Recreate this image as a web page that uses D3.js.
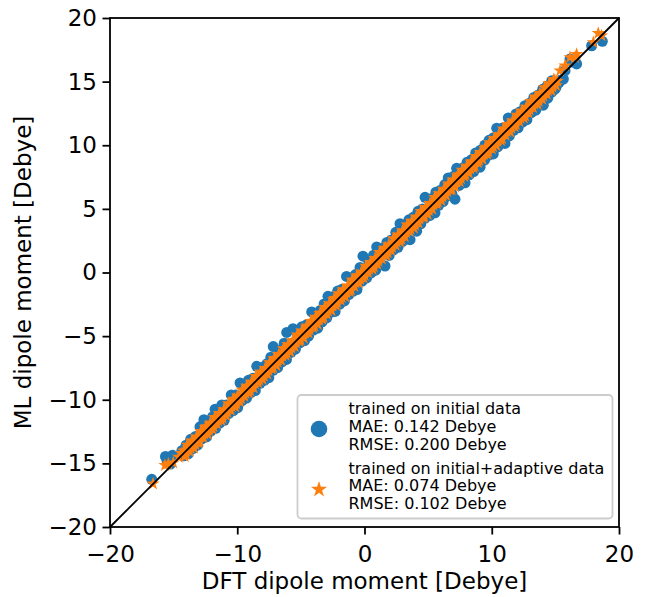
<!DOCTYPE html>
<html>
<head>
<meta charset="utf-8">
<script src="https://cdn.jsdelivr.net/npm/d3@7"></script>
<style>
  body { margin: 0; background: #fff; }
  svg { display: block; }
  text { font-family: "DejaVu Sans", sans-serif; }
</style>
</head>
<body>
<div id="chart"></div>
<script>
var xTicks = [-20, -10, 0, 10, 20];
var yTicks = [-20, -15, -10, -5, 0, 5, 10, 15, 20];
var xLabel = 'DFT dipole moment [Debye]';
var yLabel = 'ML dipole moment [Debye]';

var initialLabel = ['trained on initial data', 'MAE: 0.142 Debye', 'RMSE: 0.200 Debye'];
var adaptiveLabel = ['trained on initial+adaptive data', 'MAE: 0.074 Debye', 'RMSE: 0.102 Debye'];

// [DFT, ML] pairs, model trained on initial data
var initialPoints = [
  [-16.72, -16.25], [-15.64, -14.45], [-15.08, -14.36], [-15.52, -14.78], [-15.25, -15.05],
  [-14.35, -14.0], [-14.2, -14.4],
  [-14.02, -13.57], [-13.66, -13.11], [-13.28, -12.88], [-12.93, -12.13], [-12.62, -11.57],
  [-12.24, -11.74], [-11.93, -11.33], [-11.74, -10.74], [-11.21, -10.41], [-10.86, -10.41],
  [-10.47, -9.62], [-10.12, -9.62], [-9.78, -8.68], [-9.44, -8.89], [-9.12, -8.47],
  [-8.77, -8.32], [-8.47, -7.37], [-8.06, -7.46], [-7.68, -7.18], [-7.36, -6.66],
  [-7.17, -5.82], [-6.66, -6.11], [-6.31, -5.56], [-6.11, -4.71], [-5.62, -4.42],
  [-5.27, -4.77], [-4.91, -4.26], [-4.56, -4.11], [-4.15, -3.1], [-3.86, -3.26],
  [-3.49, -2.99], [-3.17, -2.47], [-2.87, -1.87], [-2.44, -1.89], [-2.11, -1.46],
  [-1.76, -1.31], [-1.41, -0.31], [-1.04, -0.44], [-0.71, -0.16], [-0.35, 0.4],
  [-0.12, 1.28], [0.34, 0.84], [0.71, 1.36], [0.96, 2.01], [1.39, 1.89], [1.76, 2.36],
  [2.11, 2.56], [2.46, 3.16], [2.79, 3.84], [3.16, 3.71], [3.49, 4.14], [3.86, 4.36],
  [4.21, 4.81], [4.55, 5.0], [4.76, 5.91], [5.24, 5.79], [5.61, 6.31], [5.94, 6.44],
  [6.31, 6.91], [6.58, 7.43], [7.01, 7.56], [7.24, 8.19], [7.71, 8.21], [8.06, 8.66],
  [8.41, 8.86], [8.74, 9.39], [9.11, 9.61], [9.46, 10.01], [9.79, 10.39], [10.14, 10.59],
  [10.39, 11.34], [10.86, 11.36], [11.3, 12.15], [11.56, 12.01], [11.91, 12.46],
  [12.24, 12.64], [12.61, 13.11], [12.96, 13.31], [13.31, 13.76], [13.64, 13.94],
  [14.01, 14.41], [14.36, 14.66], [14.72, 15.07],
  [-13.85, -14.25], [-13.48, -13.83], [-13.12, -13.57], [-12.78, -13.08], [-12.41, -12.91],
  [-12.07, -12.47], [-11.69, -12.24], [-11.36, -11.81], [-11.02, -11.62], [-10.68, -11.08],
  [-10.31, -10.86], [-9.97, -10.62], [-9.62, -10.07], [-9.27, -9.87], [-8.93, -9.43],
  [-8.58, -9.28], [-8.21, -8.71], [-7.88, -8.48], [-7.52, -8.27], [-7.19, -7.69],
  [-6.83, -7.48], [-6.48, -7.03], [-6.13, -6.83], [-5.77, -6.27], [-5.43, -6.03],
  [-5.08, -5.53], [-4.71, -5.36], [-4.39, -4.99], [-4.02, -4.52], [-3.68, -4.38],
  [-3.33, -3.88], [-2.97, -3.57], [-2.62, -3.12], [-2.31, -3.06], [-1.94, -2.49],
  [-1.58, -2.23], [-1.23, -1.73], [-0.87, -1.47], [-0.59, -1.34], [-0.18, -0.68],
  [0.17, -0.43], [0.52, -0.03], [0.88, 0.18], [1.23, 0.73], [1.61, 0.51], [1.94, 1.34],
  [2.28, 1.78], [2.63, 1.98], [2.97, 2.42], [3.33, 2.63], [3.58, 2.58], [3.98, 3.43],
  [4.1, 3.25], [4.42, 3.82], [4.77, 4.27], [5.12, 4.47], [5.54, 4.69], [5.83, 5.28],
  [6.18, 5.58], [6.52, 6.02], [6.87, 6.17], [7.11, 5.76], [7.44, 6.84], [7.9, 7.05],
  [8.23, 7.68], [8.58, 7.93], [8.92, 8.42], [9.08, 8.28], [9.43, 8.83], [9.78, 9.23],
  [10.12, 9.32], [10.47, 9.87], [10.81, 10.31], [11.04, 10.14], [11.38, 10.73],
  [11.72, 11.17], [12.07, 11.37], [12.42, 11.82], [12.76, 12.01], [13.11, 12.56],
  [13.46, 12.76], [13.79, 13.19], [14.05, 13.15], [14.4, 13.7], [14.72, 14.17],
  [15.05, 14.55], [15.3, 14.95],
  [14.97, 14.42], [15.4, 15.1], [15.63, 15.2], [15.76, 15.86], [16.15, 16.78],
  [16.3, 16.55], [16.67, 16.39], [17.85, 17.82], [18.69, 18.17]
];

// [DFT, ML] pairs, model trained on initial+adaptive data
var adaptivePoints = [
  [-16.62, -16.6], [-15.68, -15.15], [-15.42, -15.03], [-15.03, -14.95], [-14.6, -14.5],
  [-14.4, -14.2],
  [-14.21, -14.01], [-14.03, -14.28], [-13.84, -13.74], [-13.66, -13.81], [-13.49, -13.24],
  [-13.3, -13.5], [-13.12, -12.97], [-12.95, -13.25], [-12.76, -12.56], [-12.59, -12.69],
  [-12.4, -12.1], [-12.22, -12.42], [-12.05, -11.95], [-11.86, -12.11], [-11.69, -11.49],
  [-11.5, -11.65], [-11.33, -11.08], [-11.14, -11.44], [-10.97, -10.82], [-10.78, -10.98],
  [-10.6, -10.4], [-10.43, -10.53], [-10.24, -9.94], [-10.07, -10.32], [-9.88, -9.78],
  [-9.7, -9.9], [-9.52, -9.27], [-9.35, -9.5], [-9.16, -9.01], [-8.98, -9.28],
  [-8.8, -8.6], [-8.63, -8.73], [-8.44, -8.14], [-8.26, -8.46], [-8.09, -7.99],
  [-7.9, -8.15], [-7.72, -7.52], [-7.55, -7.7], [-7.36, -7.11], [-7.18, -7.48],
  [-7.0, -6.85], [-6.83, -7.03], [-6.64, -6.44], [-6.46, -6.56], [-6.29, -5.99],
  [-6.1, -6.35], [-5.92, -5.82], [-5.74, -5.94], [-5.57, -5.32], [-5.38, -5.53],
  [-5.2, -5.05], [-5.02, -5.32], [-4.85, -4.65], [-4.66, -4.76], [-4.48, -4.18],
  [-4.31, -4.51], [-4.12, -4.02], [-3.94, -4.19], [-3.77, -3.57], [-3.58, -3.73],
  [-3.4, -3.15], [-3.22, -3.52], [-3.05, -2.9], [-2.86, -3.06], [-2.68, -2.48],
  [-2.51, -2.61], [-2.32, -2.02], [-2.14, -2.39], [-1.96, -1.86], [-1.78, -1.98],
  [-1.6, -1.35], [-1.42, -1.57], [-1.24, -1.09], [-1.06, -1.36], [-0.88, -0.68],
  [-0.7, -0.8], [-0.52, -0.22], [-0.34, -0.54], [-0.16, -0.06], [0.02, -0.23],
  [0.2, 0.4], [0.38, 0.23], [0.56, 0.81], [0.74, 0.44], [0.92, 1.07], [1.1, 0.9],
  [1.28, 1.48], [1.46, 1.36], [1.64, 1.94], [1.82, 1.57], [2.0, 2.1], [2.18, 1.98],
  [2.36, 2.61], [2.54, 2.39], [2.72, 2.87], [2.9, 2.6], [3.08, 3.28], [3.26, 3.16],
  [3.44, 3.74], [3.62, 3.42], [3.8, 3.9], [3.98, 3.73], [4.16, 4.36], [4.34, 4.19],
  [4.52, 4.77], [4.7, 4.4], [4.88, 5.03], [5.06, 4.86], [5.24, 5.44], [5.42, 5.32],
  [5.6, 5.9], [5.78, 5.53], [5.96, 6.06], [6.14, 5.94], [6.32, 6.57], [6.5, 6.35],
  [6.68, 6.83], [6.86, 6.56], [7.04, 7.24], [7.22, 7.12], [7.4, 7.7], [7.58, 7.38],
  [7.76, 7.86], [7.94, 7.69], [8.12, 8.32], [8.3, 8.15], [8.48, 8.73], [8.66, 8.36],
  [8.84, 8.99], [9.02, 8.82], [9.2, 9.4], [9.38, 9.28], [9.56, 9.86], [9.74, 9.49],
  [9.92, 10.02], [10.1, 9.9], [10.28, 10.53], [10.46, 10.31], [10.64, 10.79], [10.82, 10.52],
  [11.0, 11.2], [11.18, 11.08], [11.36, 11.66], [11.54, 11.34], [11.72, 11.82], [11.9, 11.65],
  [12.08, 12.28], [12.26, 12.11], [12.44, 12.69], [12.62, 12.32], [12.8, 12.95], [12.98, 12.78],
  [13.16, 13.36], [13.34, 13.24], [13.52, 13.82], [13.7, 13.45], [13.88, 13.98], [14.06, 13.86],
  [14.24, 14.49], [14.42, 14.27], [14.6, 14.8], [14.78, 14.58], [14.96, 15.11], [15.14, 15.04],
  [-14.12, -14.47], [-13.94, -13.54], [-13.75, -14.05], [-13.57, -13.22], [-13.4, -13.8],
  [-13.21, -12.91], [-13.03, -13.38], [-12.86, -12.46], [-12.67, -12.97], [-12.5, -12.15],
  [-12.31, -12.71], [-12.13, -11.83], [-11.96, -12.31], [-11.77, -11.37], [-11.6, -11.9],
  [-11.41, -11.06], [-11.24, -11.64], [-11.05, -10.75], [-10.88, -11.23], [-10.69, -10.29],
  [-10.51, -10.81], [-10.34, -9.99], [-10.15, -10.55], [-9.98, -9.68], [-9.79, -10.14],
  [-9.61, -9.21], [-9.43, -9.73], [-9.26, -8.91], [-9.07, -9.47], [-8.89, -8.59],
  [-8.71, -9.06], [-8.54, -8.14], [-8.35, -8.65], [-8.17, -7.82], [-8.0, -8.4],
  [-7.81, -7.51], [-7.63, -7.98], [-7.46, -7.06], [-7.27, -7.57], [-7.09, -6.74],
  [-6.91, -7.31], [-6.74, -6.44], [-6.55, -6.9], [-6.37, -5.97], [-6.2, -6.5],
  [-6.01, -5.66], [-5.83, -6.23], [-5.65, -5.35], [-5.48, -5.83], [-5.29, -4.89],
  [-5.11, -5.41], [-4.93, -4.58], [-4.76, -5.16], [-4.57, -4.27], [-4.39, -4.74],
  [-4.22, -3.82], [-4.03, -4.33], [-3.85, -3.5], [-3.68, -4.08], [-3.49, -3.19],
  [-3.31, -3.66], [-3.13, -2.73], [-2.96, -3.26], [-2.77, -2.42], [-2.59, -2.99],
  [-2.42, -2.12], [-2.23, -2.58], [-2.05, -1.65], [-1.87, -2.17], [-1.69, -1.34],
  [-1.51, -1.91], [-1.33, -1.03], [-1.15, -1.5], [-0.97, -0.57], [-0.79, -1.09],
  [-0.61, -0.26], [-0.43, -0.83], [-0.25, 0.05], [-0.07, -0.42], [0.11, 0.51],
  [0.29, -0.01], [0.47, 0.82], [0.65, 0.25], [0.83, 1.13], [1.01, 0.66],
  [1.19, 1.59], [1.37, 1.07], [1.55, 1.9], [1.73, 1.33], [1.91, 2.21],
  [2.09, 1.74], [2.27, 2.67], [2.45, 2.15], [2.63, 2.98], [2.81, 2.41],
  [2.99, 3.29], [3.17, 2.82], [3.35, 3.75], [3.53, 3.23], [3.71, 4.06],
  [3.89, 3.49], [4.07, 4.37], [4.25, 3.9], [4.43, 4.83], [4.61, 4.31],
  [4.79, 5.14], [4.97, 4.57], [5.15, 5.45], [5.33, 4.98], [5.51, 5.91],
  [5.69, 5.39], [5.87, 6.22], [6.05, 5.65], [6.23, 6.53], [6.41, 6.06],
  [6.59, 6.99], [6.77, 6.47], [6.95, 7.3], [7.13, 6.73], [7.31, 7.61],
  [7.49, 7.14], [7.67, 8.07], [7.85, 7.55], [8.03, 8.38], [8.21, 7.81],
  [8.39, 8.69], [8.57, 8.22], [8.75, 9.15], [8.93, 8.63], [9.11, 9.46],
  [9.29, 8.89], [9.47, 9.77], [9.65, 9.3], [9.83, 10.23], [10.01, 9.71],
  [10.19, 10.54], [10.37, 9.97], [10.55, 10.85], [10.73, 10.38], [10.91, 11.31],
  [11.09, 10.79], [11.27, 11.62], [11.45, 11.05], [11.63, 11.93], [11.81, 11.46],
  [11.99, 12.39], [12.17, 11.87], [12.35, 12.7], [12.53, 12.13], [12.71, 13.01],
  [12.89, 12.54], [13.07, 13.47], [13.25, 12.95], [13.43, 13.78], [13.61, 13.21],
  [13.79, 14.09], [13.97, 13.62], [14.15, 14.55], [14.33, 14.03], [14.51, 14.86],
  [14.69, 14.29], [14.87, 15.17], [15.05, 14.7],
  [14.71, 14.81], [15.37, 15.86], [15.76, 16.25], [16.15, 16.91], [16.54, 16.91],
  [16.67, 17.15], [17.98, 18.09], [18.37, 18.8], [18.63, 18.61]
];

var width = 647, height = 597;
var blue = '#1f77b4', orange = '#ff7f0e';
var fontSize = 23;
var dotRadius = 5.5, starRadius = 7;

var x = d3.scaleLinear().domain([-20, 20]).range([110, 619]);
var y = d3.scaleLinear().domain([-20, 20]).range([527, 18]);

function fmt(d) { return d < 0 ? '\u2212' + Math.abs(d) : String(d); }

var svg = d3.select('#chart').append('svg')
  .attr('width', width)
  .attr('height', height);

svg.append('rect').attr('width', width).attr('height', height).attr('fill', '#fff');

// star marker, d3 star size is area, outer radius r -> r*r/0.8908
function starPath(r) {
  return d3.symbol().type(d3.symbolStar).size(r * r / 0.8908130915292852)();
}

var plot = svg.append('g');

plot.selectAll('circle.initial')
  .data(initialPoints)
  .enter().append('circle')
  .attr('class', 'initial')
  .attr('cx', function (d) { return x(d[0]); })
  .attr('cy', function (d) { return y(d[1]); })
  .attr('r', dotRadius)
  .attr('fill', blue);

var smallStar = starPath(starRadius);
plot.selectAll('path.adaptive')
  .data(adaptivePoints)
  .enter().append('path')
  .attr('class', 'adaptive')
  .attr('d', smallStar)
  .attr('transform', function (d) { return 'translate(' + x(d[0]) + ',' + y(d[1]) + ')'; })
  .attr('fill', orange);

// parity line
plot.append('line')
  .attr('x1', x(-20)).attr('y1', y(-20))
  .attr('x2', x(20)).attr('y2', y(20))
  .attr('stroke', '#000')
  .attr('stroke-width', 1.8);

// axes
var xAxis = d3.axisBottom(x).tickValues(xTicks).tickFormat(fmt).tickSize(7.5).tickPadding(10.7);
var yAxis = d3.axisLeft(y).tickValues(yTicks).tickFormat(fmt).tickSize(7.5).tickPadding(5.5);

var gx = svg.append('g').attr('transform', 'translate(0,527)').call(xAxis);
var gy = svg.append('g').attr('transform', 'translate(110,0)').call(yAxis);

[gx, gy].forEach(function (g) {
  g.select('.domain').remove();
  g.selectAll('.tick line').attr('stroke', '#000').attr('stroke-width', 1.8);
  g.selectAll('.tick text')
    .attr('fill', '#000')
    .style('font-family', '"DejaVu Sans", sans-serif')
    .style('font-size', fontSize + 'px');
});

// frame
svg.append('rect')
  .attr('x', 110).attr('y', 18)
  .attr('width', 509).attr('height', 509)
  .attr('fill', 'none')
  .attr('stroke', '#000')
  .attr('stroke-width', 1.8);

svg.append('text')
  .attr('x', (110 + 619) / 2)
  .attr('y', 589)
  .attr('text-anchor', 'middle')
  .style('font-size', fontSize + 'px')
  .text(xLabel);

svg.append('text')
  .attr('transform', 'translate(31,' + (18 + 527) / 2 + ') rotate(-90)')
  .attr('text-anchor', 'middle')
  .style('font-size', fontSize + 'px')
  .text(yLabel);

// legend
var legend = svg.append('g');
legend.append('rect')
  .attr('x', 297.5).attr('y', 395)
  .attr('width', 315).attr('height', 123.5)
  .attr('rx', 4).attr('ry', 4)
  .attr('fill', '#fff').attr('fill-opacity', 0.8)
  .attr('stroke', '#cccccc')
  .attr('stroke-width', 1.8);

legend.append('circle')
  .attr('cx', 319).attr('cy', 429)
  .attr('r', 8.3)
  .attr('fill', blue);

legend.append('path')
  .attr('d', starPath(8.5))
  .attr('transform', 'translate(319,489.5)')
  .attr('fill', orange);

function legendText(lines, baseY) {
  lines.forEach(function (line, i) {
    legend.append('text')
      .attr('x', 348.5)
      .attr('y', baseY + i * 17.6)
      .style('font-size', '16px')
      .attr('fill', '#000')
      .text(line);
  });
}
legendText(initialLabel, 414.3);
legendText(adaptiveLabel, 473.5);
</script>
</body>
</html>
